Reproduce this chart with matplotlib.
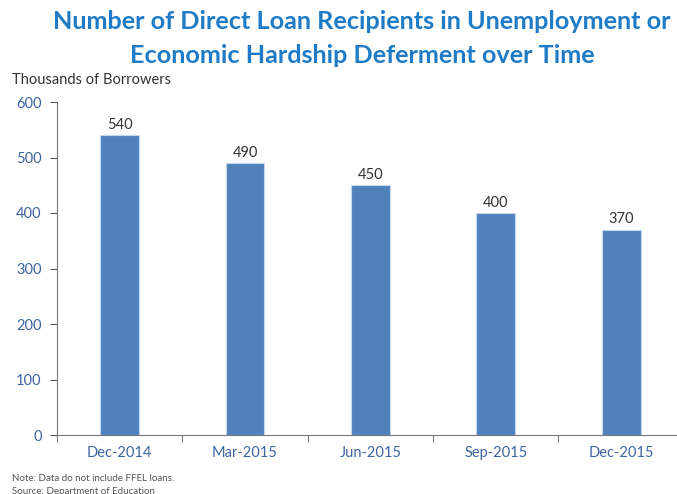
import matplotlib
matplotlib.use("Agg")
import matplotlib.pyplot as plt
import numpy as np

categories = ["Dec-2014", "Mar-2015", "Jun-2015", "Sep-2015", "Dec-2015"]
values = [540, 490, 450, 400, 370]
yticks = [0, 100, 200, 300, 400, 500, 600]

plt.rcParams['font.family'] = ['Lato', 'DejaVu Sans']

fig = plt.figure(figsize=(6.77, 4.94), dpi=100)
ax = fig.add_axes([57/677, 59/494, 1 - 57/677 + 0.01, (435-102)/494])

x = np.arange(len(categories))
bars = ax.bar(x, values, width=0.31, color="#4F81BD", edgecolor="#C9D7EA", linewidth=0.8, zorder=2)
for xi, v in zip(x, values):
    ax.text(xi, v + 6, f"{v}", ha="center", va="bottom", fontsize=10.5, color="#333333")

ax.set_xlim(-0.5, 4.5)
ax.set_ylim(0, 600)
ax.set_yticks(yticks)
ax.set_yticklabels([str(t) for t in yticks], color="#3E64A0", fontsize=10.5)
ax.set_xticks(x)
ax.set_xticklabels(categories, color="#3E64A0", fontsize=10.5)
ax.tick_params(axis='x', length=0, pad=8)
ax.set_xticks(np.arange(-0.5, 4.6, 1.0), minor=True)
ax.tick_params(axis='x', which='minor', length=5, direction='out', color="#555555")
ax.tick_params(axis='y', length=5, direction='out', color="#555555", pad=6)

for s in ["top", "right"]:
    ax.spines[s].set_visible(False)
ax.spines["left"].set_color("#777777")
ax.spines["bottom"].set_color("#777777")

fig.text(0.535, 0.957, "Number of Direct Loan Recipients in Unemployment or",
         ha="center", va="center", fontsize=18.2, fontweight="bold", color="#1F7BC6")
fig.text(0.535, 0.887, "Economic Hardship Deferment over Time",
         ha="center", va="center", fontsize=18.2, fontweight="bold", color="#1F7BC6")
fig.text(12/677, 1 - 80/494, "Thousands of Borrowers", ha="left", va="center", fontsize=10.5, color="#333333")
fig.text(12/677, 1 - 478/494, "Note: Data do not include FFEL loans.", ha="left", va="center", fontsize=7, color="#555555")
fig.text(12/677, 1 - 491/494, "Source: Department of Education", ha="left", va="center", fontsize=7, color="#555555")

fig.savefig("out.png", dpi=100)
